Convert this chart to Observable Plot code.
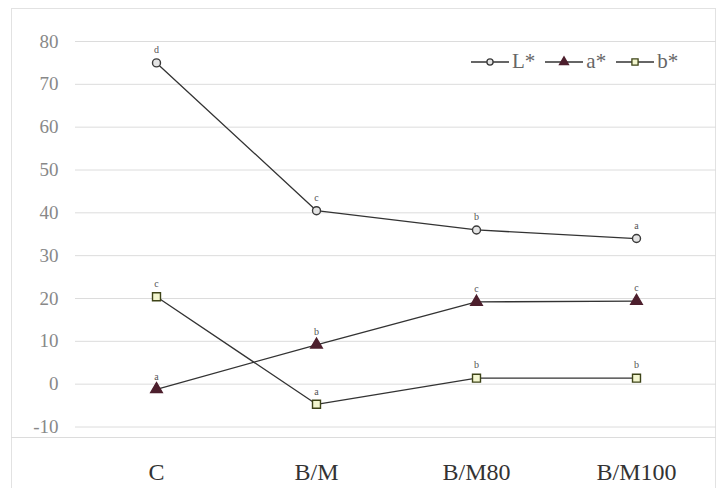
<!DOCTYPE html>
<html>
<head>
<meta charset="utf-8">
<script src="https://cdn.jsdelivr.net/npm/d3@7"></script>
<script src="https://cdn.jsdelivr.net/npm/@observablehq/plot@0.6"></script>
<style>
  html, body { margin: 0; padding: 0; background: #fff; }
  #wrap { position: relative; width: 718px; height: 488px; overflow: hidden; font-family: "Liberation Serif", "DejaVu Serif", serif; }
  #frame { position: absolute; left: 11px; top: 8px; width: 705px; height: 500px; border: 1px solid #e2e2e2; box-sizing: border-box; }
  #baseline { position: absolute; left: 11px; top: 437px; width: 705px; height: 0; border-top: 1px solid #dcdcdc; }
  #chart { position: absolute; left: 0; top: 0; }
  #legend { position: absolute; top: 49px; left: 471px; display: flex; gap: 10px; align-items: center; font-family: "Liberation Serif", serif; font-size: 21px; color: #666; }
  #legend .item { display: flex; align-items: center; gap: 3px; }
</style>
</head>
<body>
<div id="wrap">
  <div id="frame"></div>
  <div id="baseline"></div>
  <div id="chart"></div>
  <div id="legend"></div>
</div>
<script>
const categories = ["C", "B/M", "B/M80", "B/M100"];
const seriesNames = ["L*", "a*", "b*"];
const Lvalues = [75, 40.5, 36, 34];
const avalues = [-1.2, 9.2, 19.2, 19.4];
const bvalues = [20.4, -4.7, 1.4, 1.4];
const Lletters = ["d", "c", "b", "a"];
const aletters = ["a", "b", "c", "c"];
const bletters = ["c", "a", "b", "b"];
const yTicks = [-10, 0, 10, 20, 30, 40, 50, 60, 70, 80];

const SERIF = "Liberation Serif";

const styles = {
  "L*": {symbol: "circle", r: 4, fill: "#e4e4e4", stroke: "#3a3a3a"},
  "a*": {symbol: "triangle", r: 4.3, fill: "#4d1f2d", stroke: "#4d1f2d"},
  "b*": {symbol: "square", r: 4.5, fill: "#f3f6cf", stroke: "#3e4418"}
};

const valuesBySeries = {"L*": Lvalues, "a*": avalues, "b*": bvalues};
const lettersBySeries = {"L*": Lletters, "a*": aletters, "b*": bletters};

const data = [];
for (const s of seriesNames) {
  categories.forEach((c, i) => {
    data.push({series: s, cat: c, value: valuesBySeries[s][i], letter: lettersBySeries[s][i]});
  });
}

const marks = [
  Plot.gridY(yTicks, {stroke: "#dcdcdc", strokeOpacity: 1, strokeWidth: 1}),
  Plot.text(yTicks, {y: d => d, text: d => d < 0 ? "-" + Math.abs(d) : String(d), frameAnchor: "left", textAnchor: "end", dx: -17, fontSize: 19, fontFamily: SERIF, fill: "#888"}),
  Plot.axisX({tickSize: 0, tickPadding: 36, fontSize: 24, fontFamily: SERIF, fill: "#333"})
];
for (const s of seriesNames) {
  const d = data.filter(r => r.series === s);
  const st = styles[s];
  marks.push(Plot.line(d, {x: "cat", y: "value", stroke: "#333", strokeWidth: 1.3}));
  marks.push(Plot.dot(d, {x: "cat", y: "value", symbol: () => st.symbol, r: st.r, fill: st.fill, stroke: st.stroke, strokeWidth: 1.4}));
  marks.push(Plot.text(d, {x: "cat", y: "value", text: "letter", dy: -13, fontSize: 10, fontFamily: SERIF, fill: "#555"}));
}

const chart = Plot.plot({
  width: 718,
  height: 488,
  marginLeft: 75,
  marginRight: 2,
  marginTop: 41,
  marginBottom: 61.5,
  style: {fontFamily: SERIF, background: "transparent", overflow: "visible"},
  x: {type: "point", domain: categories, padding: 0.5, label: null},
  y: {domain: [-10, 80], label: null, axis: null},
  marks
});
document.getElementById("chart").appendChild(chart);

// legend
const legend = document.getElementById("legend");
for (const s of seriesNames) {
  const st = styles[s];
  const item = document.createElement("div");
  item.className = "item";
  const svg = d3.create("svg").attr("width", 38).attr("height", 14);
  svg.append("line").attr("x1", 0).attr("x2", 38).attr("y1", 7).attr("y2", 7).attr("stroke", "#333").attr("stroke-width", 1.3);
  const sym = {circle: d3.symbolCircle, triangle: d3.symbolTriangle, square: d3.symbolSquare}[st.symbol];
  const size = Math.PI * st.r * st.r * 0.6;
  svg.append("path").attr("d", d3.symbol(sym, size)()).attr("transform", "translate(19,7)")
    .attr("fill", st.fill).attr("stroke", st.stroke).attr("stroke-width", 1.3);
  item.appendChild(svg.node());
  const t = document.createElement("span");
  t.textContent = s;
  t.style.fontFamily = SERIF;
  item.appendChild(t);
  legend.appendChild(item);
}
</script>
</body>
</html>
